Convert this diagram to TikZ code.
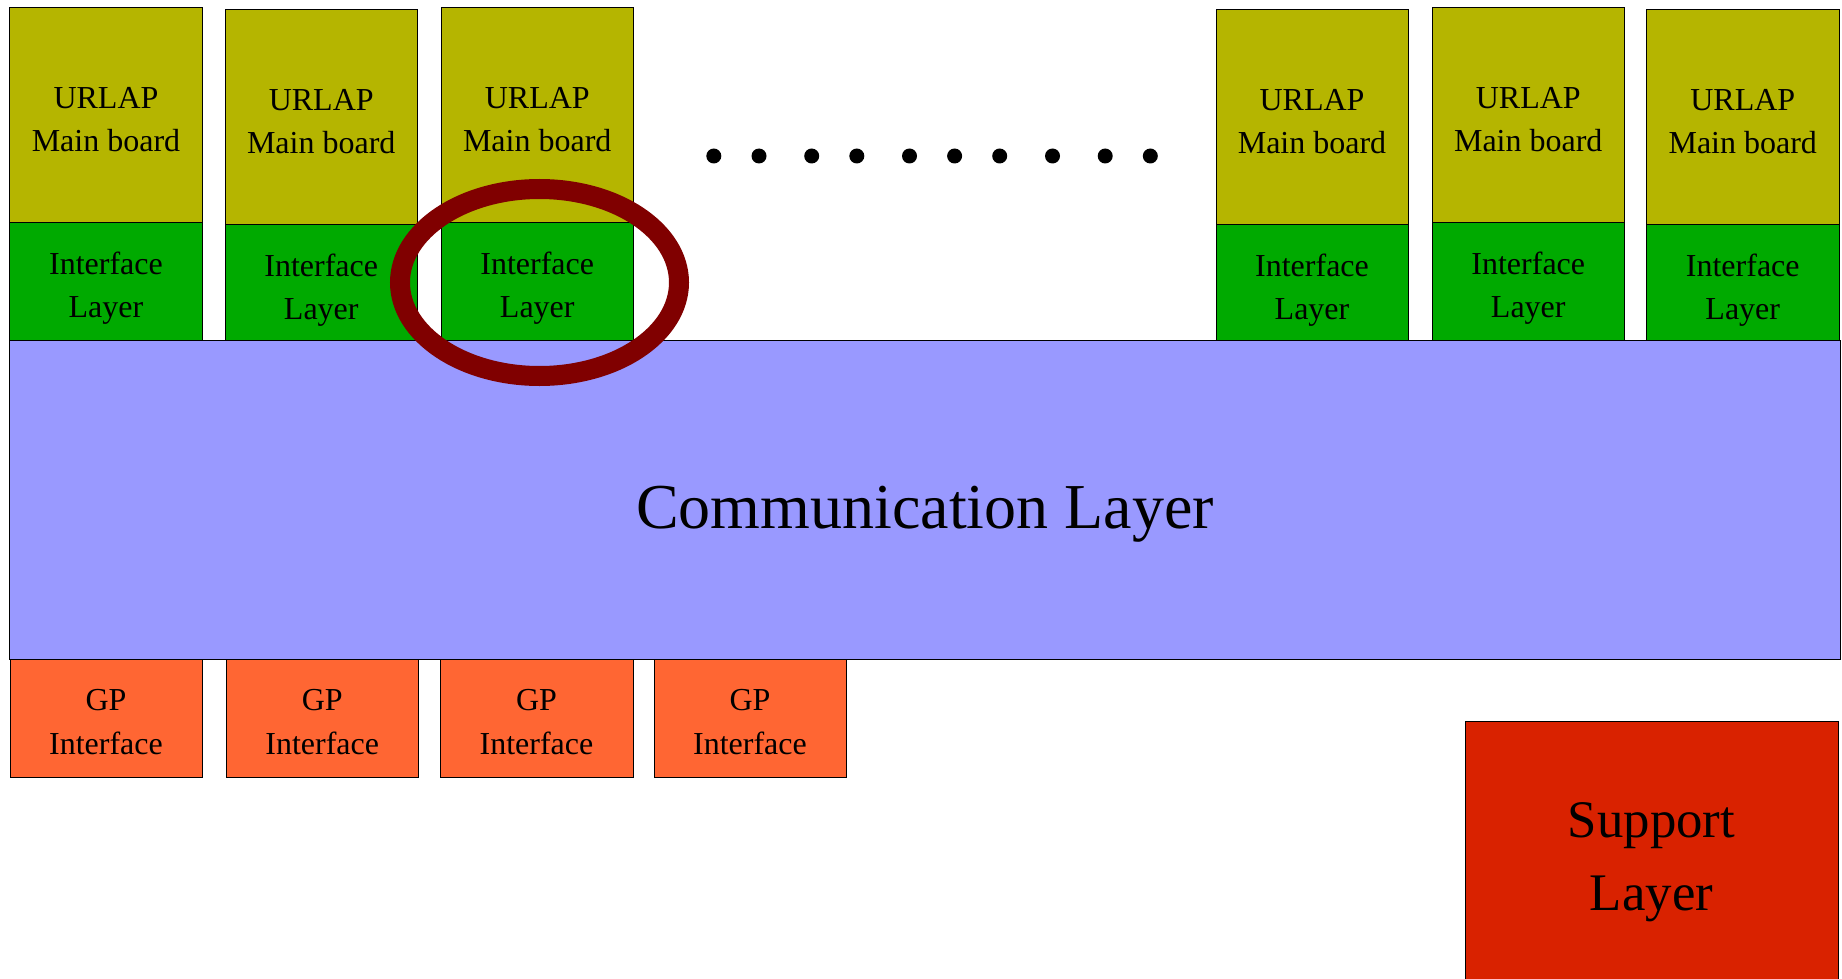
\documentclass[tikz,border=0pt]{standalone}
\usepackage{fontspec}
\setmainfont{Liberation Serif}
\usetikzlibrary{fit}
\definecolor{boardcol}{HTML}{B5B500}
\definecolor{ifacecol}{HTML}{00AA00}
\definecolor{commcol}{HTML}{9999FF}
\definecolor{gpcol}{HTML}{FF6633}
\definecolor{supportcol}{HTML}{D92200}
\definecolor{ringcol}{HTML}{800000}
\begin{document}
\begin{tikzpicture}[x=0.5pt,y=-0.5pt,
  blk/.style={draw=black, line width=0.5pt, inner sep=0pt, outer sep=0pt},
  txt/.style={anchor=base, inner sep=0pt, font=\fontsize{16}{19}\selectfont},
  bigtxt/.style={anchor=base, inner sep=0pt, font=\fontsize{32}{38}\selectfont},
  suptxt/.style={anchor=base, inner sep=0pt, font=\fontsize{26.4}{32}\selectfont},
  dot/.style={fill=black}]
\useasboundingbox (0,0) rectangle (1842,979);

% URLAP columns: main board on top of its interface layer
\foreach \n/\l/\r/\t/\m in {1/9.5/202.5/7.5/222.5, 2/225/417.5/9.5/224.5,
    3/441/633.5/7.5/222.5, 4/1216/1408/9.5/224.5,
    5/1432/1624.5/7.5/222.5, 6/1646.5/1839/9.5/224.5}{
  \node[blk, fill=boardcol, fit={(\l,\t) (\r,\m)}] (mb\n) {};
  \node[blk, fill=ifacecol, fit={(\l,\m) (\r,340.5)}] (il\n) {};
  \node[txt] (mbu\n) at ([yshift=57pt]mb\n.south) {URLAP};
  \node[txt] (mbm\n) at ([yshift=35.5pt]mb\n.south) {Main board};
  \node[txt] (ili\n) at ([yshift=-26pt]il\n.north) {Interface};
  \node[txt] (ill\n) at ([yshift=-47.5pt]il\n.north) {Layer};
}

% ellipsis between the column groups
\foreach \x in {713.8,759,811.7,856.8,909.5,954.6,999.7,1052.5,1105.2,1150.3}
  \fill[dot] (\x,156) circle[radius=3.75pt];

% communication layer
\node[blk, fill=commcol, fit={(9.5,340.5) (1840,659)}] (comm) {};
\node[bigtxt] (commt) at (925,528) {Communication Layer};

% GP interfaces
\foreach \n/\l/\r in {1/10/202, 2/226/418.5, 3/440/633, 4/654/846}{
  \node[blk, fill=gpcol, fit={(\l,659.5) (\r,777)}] (gp\n) {};
  \node[txt] (gpa\n) at ([yshift=-25.5pt]gp\n.north) {GP};
  \node[txt] (gpb\n) at ([yshift=-47.5pt]gp\n.north) {Interface};
}

% support layer
\node[blk, fill=supportcol, fit={(1465,721) (1838,990)}] (sup) {};
\node[suptxt] (supa) at ([yshift=-58pt]sup.north) {Support};
\node[suptxt] (supb) at ([yshift=-94.5pt]sup.north) {Layer};

% highlight ring round the third interface layer
\draw[ringcol, line width=10pt] (539.5,282.5) ellipse [x radius=69.75pt, y radius=46.75pt];
\end{tikzpicture}
\end{document}
